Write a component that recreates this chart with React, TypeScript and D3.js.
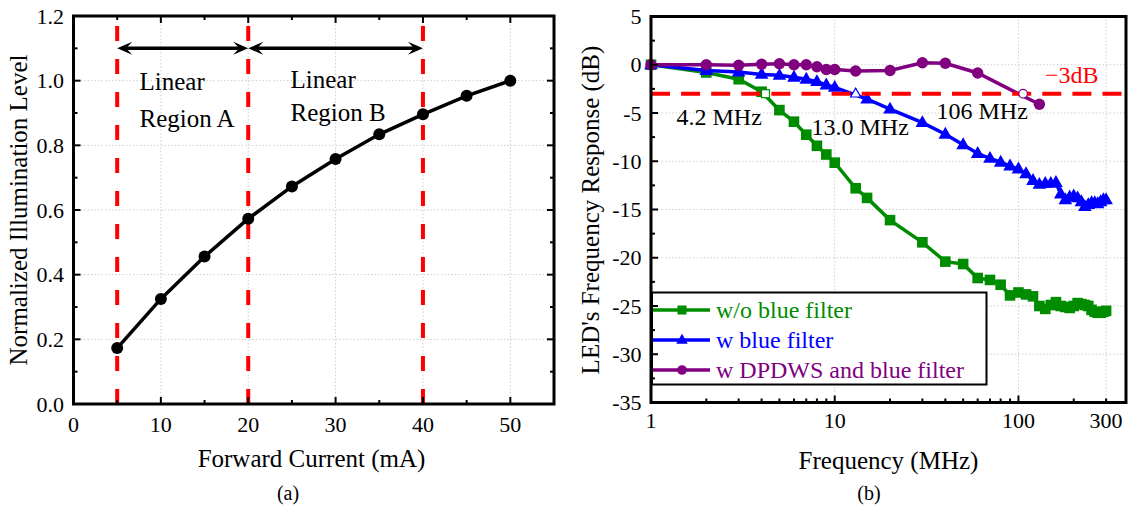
import React from "react";
import * as d3 from "d3";

// ---------- Panel (a) data ----------
const currents = [5, 10, 15, 20, 25, 30, 35, 40, 45, 50];
const illumination = [0.173, 0.325, 0.456, 0.573, 0.673, 0.758, 0.834, 0.896, 0.953, 1.0];
const regionBounds = [5, 20, 40];
const arrowSpans = [[5, 20], [20, 40]];
const arrowLevel = 1.1;
const xTicksA = [0, 10, 20, 30, 40, 50];
const xMinorA = [5, 15, 25, 35, 45];
const yTicksA = [0, 0.2, 0.4, 0.6, 0.8, 1.0, 1.2];
const yMinorA = [0.1, 0.3, 0.5, 0.7, 0.9, 1.1];

// ---------- Panel (b) data ----------
const freqGreen = [1, 2, 3, 4, 5, 6, 7, 8, 9, 10, 13, 15, 20, 30, 40, 50, 60, 70, 80, 90, 100,
  110, 120, 130, 140, 150, 160, 170, 180, 190, 200, 210, 220, 230, 240, 250, 260, 270, 280, 290, 300];
const respGreen = [0, -0.8, -1.5, -2.8, -4.7, -5.9, -7.25, -8.4, -9.3, -10.15, -12.8, -13.8, -16.1, -18.4, -20.4, -20.65, -22.1, -22.3, -22.8, -23.9, -23.6,
  -23.8, -24.0, -25.0, -25.3, -24.9, -24.6, -25.0, -25.1, -25.2, -25.0, -24.7, -24.8, -24.9, -25.0, -25.4, -25.6, -25.7, -25.7, -25.6, -25.5];

const freqBlue = [1, 2, 3, 4, 5, 6, 7, 8, 9, 10, 15, 20, 30, 40, 50, 60, 70, 80, 90, 100,
  110, 120, 130, 140, 150, 160, 170, 180, 190, 200, 210, 220, 230, 240, 250, 260, 270, 280, 290, 300];
const respBlue = [0, -0.6, -0.75, -1.0, -1.1, -1.3, -1.5, -1.75, -2.1, -2.35, -3.55, -4.6, -6.0, -7.2, -8.3, -9.2, -9.7, -10.1, -10.5, -10.8,
  -11.3, -12.0, -12.4, -12.3, -12.3, -12.2, -13.4, -14.0, -13.7, -13.6, -13.8, -14.2, -14.7, -14.5, -14.3, -14.3, -14.4, -14.2, -14.0, -14.0];

const freqPurple = [1, 2, 3, 4, 5, 6, 7, 8, 9, 10, 13, 20, 30, 40, 60, 130];
const respPurple = [0, 0, -0.05, 0.05, 0.1, 0, 0, -0.2, -0.5, -0.5, -0.65, -0.6, 0.2, 0.15, -0.85, -4.1];

const cutoffFreqs = [4.2, 13.0, 106];
const cutoffLabels = ["4.2 MHz", "13.0 MHz", "106 MHz"];
const cutoffLevel = -3;

const xTicksB = [1, 10, 100, 300];
const xTickLabelsB = ["1", "10", "100", "300"];
const xMinorB = [2, 3, 4, 5, 6, 7, 8, 9, 20, 30, 40, 50, 60, 70, 80, 90, 200];
const yTicksB = [5, 0, -5, -10, -15, -20, -25, -30, -35];
const yMinorB = [2.5, -2.5, -7.5, -12.5, -17.5, -22.5, -27.5, -32.5];

const seriesNames = ["w/o blue filter", "w blue filter", "w DPDWS and blue filter"];

const GREEN = "#008c00";
const BLUE = "#0000ff";
const PURPLE = "#800080";
const RED = "#ff0000";
const GRID = "#cfcfcf";
const FONT = "'Liberation Serif', 'Times New Roman', serif";

type Shape = "square" | "triangle" | "circle";

function Marker({ x, y, shape, color, open = false, s = 1 }: { x: number; y: number; shape: Shape; color: string; open?: boolean; s?: number }) {
  const fill = open ? "#fff" : color;
  const sw = open ? 1.2 : 0;
  if (shape === "square") {
    const h = 5.3 * s;
    return <rect x={x - h} y={y - h} width={2 * h} height={2 * h} fill={fill} stroke={color} strokeWidth={sw} />;
  }
  if (shape === "triangle") {
    const a = 6.8 * s;
    return <path d={`M${x},${y - a * 1.1}L${x + a},${y + a * 0.65}L${x - a},${y + a * 0.65}Z`} fill={fill} stroke={color} strokeWidth={sw} />;
  }
  return <circle cx={x} cy={y} r={5.7 * s} fill={fill} stroke={color} strokeWidth={sw} />;
}

function arrowHead(tipX: number, y: number, dir: number) {
  const len = 15, hw = 6.5;
  return `M${tipX},${y}L${tipX - dir * len},${y - hw}L${tipX - dir * len * 0.6},${y}L${tipX - dir * len},${y + hw}Z`;
}

export default function App() {
  // ---- Panel (a) scales ----
  const xA = d3.scaleLinear().domain([0, 55]).range([73.5, 554]);
  const yA = d3.scaleLinear().domain([0, 1.2]).range([404, 16]);
  const lineA = d3.line<number>().x((d, i) => xA(currents[i])).y((d) => yA(d));

  // ---- Panel (b) scales ----
  const xB = d3.scaleLog().domain([1, 385]).range([651, 1126]);
  const yB = d3.scaleLinear().domain([-35, 5]).range([402.5, 16.5]);
  const mkLine = (fs: number[]) => d3.line<number>().x((d, i) => xB(fs[i])).y((d) => yB(d));

  const [aL, aR] = xA.range();
  const [aB, aT] = yA.range();
  const [bL, bR] = xB.range();
  const [bB, bT] = yB.range();

  const series = [
    { f: freqGreen, v: respGreen, color: GREEN, shape: "square" as Shape },
    { f: freqBlue, v: respBlue, color: BLUE, shape: "triangle" as Shape },
    { f: freqPurple, v: respPurple, color: PURPLE, shape: "circle" as Shape },
  ];

  const labelPos = [
    { x: 676.5, y: 125 },
    { x: 811.5, y: 135 },
    { x: 936.5, y: 119 },
  ];

  return (
    <div style={{ position: "absolute", left: 0, top: 0 }}>
      <svg width={1128} height={507} style={{ display: "block", background: "#fff" }} fontFamily={FONT}>
        {/* ================= Panel (a) ================= */}
        <g>
          {xTicksA.filter((t) => t > 0).map((t) => (
            <line key={"gxa" + t} x1={xA(t)} x2={xA(t)} y1={aB} y2={aT} stroke={GRID} strokeWidth={1} strokeDasharray="1.5 2" />
          ))}
          {yTicksA.filter((t) => t > 0 && t < 1.2).map((t) => (
            <line key={"gya" + t} x1={aL} x2={aR} y1={yA(t)} y2={yA(t)} stroke={GRID} strokeWidth={1} strokeDasharray="1.5 2" />
          ))}
          {regionBounds.map((b) => (
            <line key={"rb" + b} x1={xA(b)} x2={xA(b)} y1={aB} y2={aT} stroke={RED} strokeWidth={4} strokeDasharray="15 18" />
          ))}
          <path d={lineA(illumination) || ""} fill="none" stroke="#000" strokeWidth={3.5} />
          {illumination.map((v, i) => (
            <circle key={"pa" + i} cx={xA(currents[i])} cy={yA(v)} r={6} fill="#000" />
          ))}
          {arrowSpans.map(([a, b], i) => (
            <g key={"ar" + i}>
              <line x1={xA(a) + 5} x2={xA(b) - 5} y1={yA(arrowLevel)} y2={yA(arrowLevel)} stroke="#000" strokeWidth={3.5} />
              <path d={arrowHead(xA(a), yA(arrowLevel), -1)} fill="#000" />
              <path d={arrowHead(xA(b), yA(arrowLevel), 1)} fill="#000" />
            </g>
          ))}
          <text x={139.5} y={90} fontSize={25}>Linear</text>
          <text x={139.5} y={126.5} fontSize={25}>Region A</text>
          <text x={290.5} y={88} fontSize={25}>Linear</text>
          <text x={290.5} y={120.5} fontSize={25}>Region B</text>

          {/* ticks */}
          {xTicksA.map((t) => (
            <g key={"txa" + t}>
              <line x1={xA(t)} x2={xA(t)} y1={aB} y2={aB - 7} stroke="#000" strokeWidth={2} />
              <line x1={xA(t)} x2={xA(t)} y1={aT} y2={aT + 7} stroke="#000" strokeWidth={2} />
              <text x={xA(t)} y={431.5} fontSize={22} textAnchor="middle">{t}</text>
            </g>
          ))}
          {xMinorA.map((t) => (
            <g key={"mxa" + t}>
              <line x1={xA(t)} x2={xA(t)} y1={aB} y2={aB - 4} stroke="#000" strokeWidth={2} />
              <line x1={xA(t)} x2={xA(t)} y1={aT} y2={aT + 4} stroke="#000" strokeWidth={2} />
            </g>
          ))}
          {yTicksA.map((t) => (
            <g key={"tya" + t}>
              <line x1={aL} x2={aL + 7} y1={yA(t)} y2={yA(t)} stroke="#000" strokeWidth={2} />
              <line x1={aR} x2={aR - 7} y1={yA(t)} y2={yA(t)} stroke="#000" strokeWidth={2} />
              <text x={64} y={yA(t)} dy="0.35em" fontSize={22} textAnchor="end">{t.toFixed(1)}</text>
            </g>
          ))}
          {yMinorA.map((t) => (
            <g key={"mya" + t}>
              <line x1={aL} x2={aL + 4} y1={yA(t)} y2={yA(t)} stroke="#000" strokeWidth={2} />
              <line x1={aR} x2={aR - 4} y1={yA(t)} y2={yA(t)} stroke="#000" strokeWidth={2} />
            </g>
          ))}
          <rect x={aL} y={aT} width={aR - aL} height={aB - aT} fill="none" stroke="#000" strokeWidth={3} />
          <text x={311.5} y={466.5} fontSize={25} textAnchor="middle">Forward Current (mA)</text>
          <text transform={`translate(27,210) rotate(-90)`} fontSize={25} textAnchor="middle">Normalized Illumination Level</text>
          <text x={288} y={500} fontSize={20} textAnchor="middle">(a)</text>
        </g>

        {/* ================= Panel (b) ================= */}
        <g>
          {[10, 100, 300].map((t) => (
            <line key={"gxb" + t} x1={xB(t)} x2={xB(t)} y1={bB} y2={bT} stroke={GRID} strokeWidth={1} strokeDasharray="1.5 2" />
          ))}
          {yTicksB.filter((t) => t < 5 && t > -35).map((t) => (
            <line key={"gyb" + t} x1={bL} x2={bR} y1={yB(t)} y2={yB(t)} stroke={GRID} strokeWidth={1} strokeDasharray="1.5 2" />
          ))}
          {series.map((s, k) => (
            <g key={"s" + k}>
              <path d={mkLine(s.f)(s.v) || ""} fill="none" stroke={s.color} strokeWidth={3.5} />
              {s.v.map((v, i) => (
                <Marker key={i} x={xB(s.f[i])} y={yB(v)} shape={s.shape} color={s.color} />
              ))}
            </g>
          ))}
          <line x1={bL} x2={bR} y1={yB(cutoffLevel)} y2={yB(cutoffLevel)} stroke={RED} strokeWidth={4} strokeDasharray="19 11.1" />
          {cutoffFreqs.map((f, i) => (
            <Marker key={"cf" + i} x={xB(f)} y={yB(cutoffLevel)} shape={series[i].shape} color={series[i].color} open s={0.75} />
          ))}
          {cutoffLabels.map((l, i) => (
            <text key={"cl" + i} x={labelPos[i].x} y={labelPos[i].y} fontSize={24}>{l}</text>
          ))}
          <text x={1045} y={83} fontSize={24} fill={RED}>−3dB</text>

          {/* legend */}
          <rect x={652} y={292.5} width={334.5} height={92} fill="#fff" stroke="#000" strokeWidth={2} />
          {series.map((s, k) => {
            const yy = 310 + k * 30;
            return (
              <g key={"lg" + k}>
                <line x1={653} x2={710} y1={yy} y2={yy} stroke={s.color} strokeWidth={3.5} />
                <Marker x={682} y={yy} shape={s.shape} color={s.color} s={0.85} />
                <text x={716} y={yy} dy="0.33em" fontSize={24} fill={s.color}>{seriesNames[k]}</text>
              </g>
            );
          })}

          {/* ticks */}
          {xTicksB.map((t, i) => (
            <g key={"txb" + t}>
              <line x1={xB(t)} x2={xB(t)} y1={bB} y2={bB - (t === 300 ? 4 : 7)} stroke="#000" strokeWidth={2} />
              <text x={xB(t)} y={428} fontSize={22} textAnchor="middle">{xTickLabelsB[i]}</text>
            </g>
          ))}
          {xMinorB.map((t) => (
            <line key={"mxb" + t} x1={xB(t)} x2={xB(t)} y1={bB} y2={bB - 4} stroke="#000" strokeWidth={2} />
          ))}
          {yTicksB.map((t) => (
            <g key={"tyb" + t}>
              <line x1={bL} x2={bL + 7} y1={yB(t)} y2={yB(t)} stroke="#000" strokeWidth={2} />
              <text x={641.5} y={yB(t)} dy="0.35em" fontSize={22} textAnchor="end">{String(t)}</text>
            </g>
          ))}
          {yMinorB.map((t) => (
            <line key={"myb" + t} x1={bL} x2={bL + 4} y1={yB(t)} y2={yB(t)} stroke="#000" strokeWidth={2} />
          ))}
          <rect x={bL} y={bT} width={bR - bL} height={bB - bT} fill="none" stroke="#000" strokeWidth={3} />
          <text x={888.5} y={469} fontSize={25} textAnchor="middle">Frequency (MHz)</text>
          <text transform={`translate(599,210) rotate(-90)`} fontSize={25} textAnchor="middle">LED's Frequency Response (dB)</text>
          <text x={869} y={500} fontSize={20} textAnchor="middle">(b)</text>
        </g>
      </svg>
    </div>
  );
}
